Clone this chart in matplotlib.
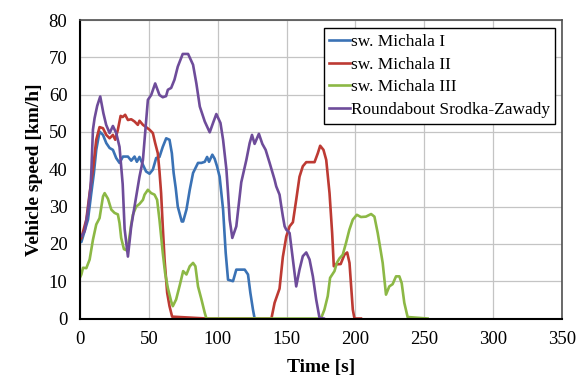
import matplotlib.pyplot as plt

plt.rcParams['font.family'] = ['Liberation Serif', 'DejaVu Serif']

### speed profiles (time [s], speed [km/h]) ###
t_blue = [0, 1, 3.4, 5.8, 8.2, 10.1, 11.8, 14.2, 16.7, 19.1, 21.5, 23.9, 26.3, 28.7, 31.2, 34.8,
          37.2, 39.6, 41.3, 43.2, 45.7, 48, 50.5, 52.9, 55.3, 57.7, 60.1, 62.6, 65, 66.7, 68, 69.5,
          71, 73.9, 74.9, 77.3, 79.7, 82.1, 85.7, 88.2, 90.6, 92.3, 93.7, 96.1, 97.8, 99.5, 101.4,
          103.9, 105.8, 107.5, 111.1, 113.5, 119.6, 122, 123.7, 125.6, 126.8, 130]
v_blue = [20.5, 20.5, 23.5, 26.5, 33.6, 39, 45.2, 50.1, 49.2, 47, 45.7, 45.2, 43, 41.7, 43.4, 43.4,
          42.3, 43.4, 42, 43.3, 41.2, 39.4, 38.8, 39.9, 43, 43.3, 46, 48.3, 47.9, 44.3, 39, 35,
          30, 26, 26, 29.2, 34.5, 39, 41.7, 41.7, 42, 43.3, 42, 43.9, 42.8, 40.8, 38,
          29.2, 17.6, 10.4, 10, 13.1, 13.1, 11.8, 6.9, 2.4, 0, 0]

t_red = [0, 1, 4.6, 7, 9.4, 11.8, 14.2, 16.7, 19.1, 21.5, 23.9, 25.6, 27.5, 29.5, 31, 32.8, 34.8,
         37.2, 39.6, 42, 43.2, 45.7, 48, 50.5, 52.9, 54.6, 56.5, 57.7, 58.9, 60.1, 61.4, 63.3, 65,
         66.9, 92, 139, 141.3, 144.9, 147.3, 149.8, 152.2, 154.6, 157, 159.4, 161.8, 164.3, 170.3,
         172.7, 174.4, 176.8, 178.8, 181.2, 183.1, 184.3, 185.7, 189.3, 192, 194, 195.7, 196.9,
         198.1, 199.3, 204]
v_red = [21, 21.6, 26.5, 33.6, 39.9, 47.9, 51.3, 51, 49.2, 48.3, 49.2, 47.9, 50.6, 54.3, 54, 54.6, 53.2,
         53.4, 52.8, 51.9, 53, 51.9, 51.3, 50.6, 49.7, 47, 44.3, 39.5, 33.6, 24.7, 15.8, 6.9, 3.3,
         0.5, 0, 0, 4.2, 8, 16.5, 22, 24.7, 25.8, 31.8, 38, 40.8, 41.9, 41.9,
         44.3, 46.3, 45.2, 42.5, 33.6, 22.9, 14, 14.5, 14.6, 17.1, 17.7, 14.9, 8.6,
         2.4, 0, 0]

t_green = [0, 1, 2.2, 4.6, 7, 9.4, 11.8, 14.2, 16.7, 17.9, 20.3, 22.7, 25.1, 27.5, 28.7, 29.9, 31.9,
           33.6, 35.3, 37.2, 38.4, 40.8, 43.2, 45.7, 46.9, 49.3, 51.7, 54.1, 56, 57.7, 60.1, 61.8,
           63.8, 66.2, 67.4, 69.8, 72.5, 74.9, 77.3, 79.7, 82.1, 83.8, 85.7, 88.2, 90.6, 91.8, 175,
           177.5, 179.9, 181.6, 184.8, 186.5, 188.4, 190.8, 193.2, 195.6, 198.1, 201, 204, 207.6,
           211.4, 213.8, 216.2, 218.6, 219.8, 222.2, 224.6, 227, 229.5, 231.9, 233.6, 235.5, 237.9,
           252.4]
v_green = [11, 11.8, 13.6, 13.5, 15.8, 21.1, 25.2, 26.9, 32.7, 33.6, 32.1, 29.2, 28.3, 27.9, 25.6, 21.6, 18.6,
           18.3, 20.3, 25.2, 27.8, 30, 30.7, 31.8, 33.2, 34.5, 33.6, 33.2, 31.8, 26.5, 17.6, 12.2,
           8.2, 4.6, 3.3, 5.1, 9, 12.7, 11.8, 14, 14.9, 14, 8.6, 5.1, 1.5, 0, 0,
           2.4, 6, 10.9, 12.7, 14.9, 16.1, 17.1, 20.3, 23.8, 26.5, 27.8, 27.2, 27.3,
           28, 27.3, 22.9, 17.6, 14.9, 6.4, 8.6, 9.2, 11.3, 11.3, 9.5, 4.2, 0.4,
           0]

t_purple = [0, 1, 3.4, 5.8, 7.7, 8.2, 9.4, 10.6, 12.5, 14.7, 17, 19, 21.5, 23.9, 26.3, 28.7, 31, 32.4,
            34.8, 37.2, 39.6, 43.2, 45.7, 46.9, 49.3, 51.7, 54.6, 57.7, 60.1, 62.5, 63.8, 66.2, 68.6,
            71, 74.6, 77, 78.5, 82.1, 84.5, 87, 90.6, 94.2, 96.6, 99, 102, 103.9, 106.3, 107.5, 108.7,
            110.6, 113.5, 117.1, 120.8, 123.2, 124.9, 126.8, 129.9, 132.4, 134.8, 137.7, 141.3, 142.5,
            144.9, 146.2, 147.3, 148.6, 149.8, 151, 152.2, 154.6, 157, 159.4, 161.8, 164.3, 166.7,
            169.1, 171.5, 173.9, 177]
v_purple = [22, 22, 23.4, 29, 35.4, 39, 50.6, 53.7, 57, 59.5, 55, 51.9, 49.7, 51.6, 49.7, 46, 36, 24,
            16.6, 24.7, 30, 38, 42.5, 47.9, 58.6, 59.9, 63, 59.9, 59.3, 59.6, 61.3, 61.8, 64,
            67.5, 70.9, 70.9, 70.9, 68, 63, 56.8, 52.8, 49.9, 52.4, 54.8, 52.4, 47.9, 40, 33.6, 26.5,
            21.6, 24.7, 36.5, 42.5, 47, 49.2, 46.8, 49.5, 46.8, 45.2, 41.7, 37.2, 35.4,
            33.2, 30, 27.4, 24.7, 23.8, 23.4, 22.9, 15.8, 8.6, 13.1, 16.7, 17.7, 15.8,
            11.3, 5.1, 0.2, 0]

series = [(t_blue, v_blue, 'sw. Michala I', '#3a72b5'),
          (t_red, v_red, 'sw. Michala II', '#bd3a33'),
          (t_green, v_green, 'sw. Michala III', '#8cb845'),
          (t_purple, v_purple, 'Roundabout Srodka-Zawady', '#6e4c9a')]

fig = plt.figure(figsize=(5.78, 3.76), dpi=100)
ax = fig.add_axes([0.1384, 0.1529, 0.8339, 0.7939])

for t, v, name, col in series:
  ax.plot(t, v, color=col, lw=1.9, label=name, solid_joinstyle='round')

ax.set_xlim(0, 350)
ax.set_ylim(0, 80)
ax.set_xticks(range(0, 351, 50))
ax.set_yticks(range(0, 81, 10))
ax.grid(True, color='#c4c4c4', lw=0.9)
ax.set_axisbelow(True)
ax.tick_params(length=0, labelsize=13.5, pad=9)

for s in ['top', 'right']:
  ax.spines[s].set_color('#505050')
  ax.spines[s].set_linewidth(1.2)
for s in ['left', 'bottom']:
  ax.spines[s].set_color('black')
  ax.spines[s].set_linewidth(1.5)

ax.set_xlabel('Time [s]', fontsize=14, fontweight='bold', labelpad=8)
ax.set_ylabel('Vehicle speed [km/h]', fontsize=14, fontweight='bold', labelpad=4)

leg = ax.legend(loc='upper right', bbox_to_anchor=(0.985, 0.972), borderaxespad=0,
                fontsize=12.4, handlelength=1.2, handletextpad=0.05, labelspacing=0.4,
                fancybox=False, framealpha=1, edgecolor='black', borderpad=0.3)
leg.get_frame().set_linewidth(1.0)

plt.savefig('out.png', dpi=100)
